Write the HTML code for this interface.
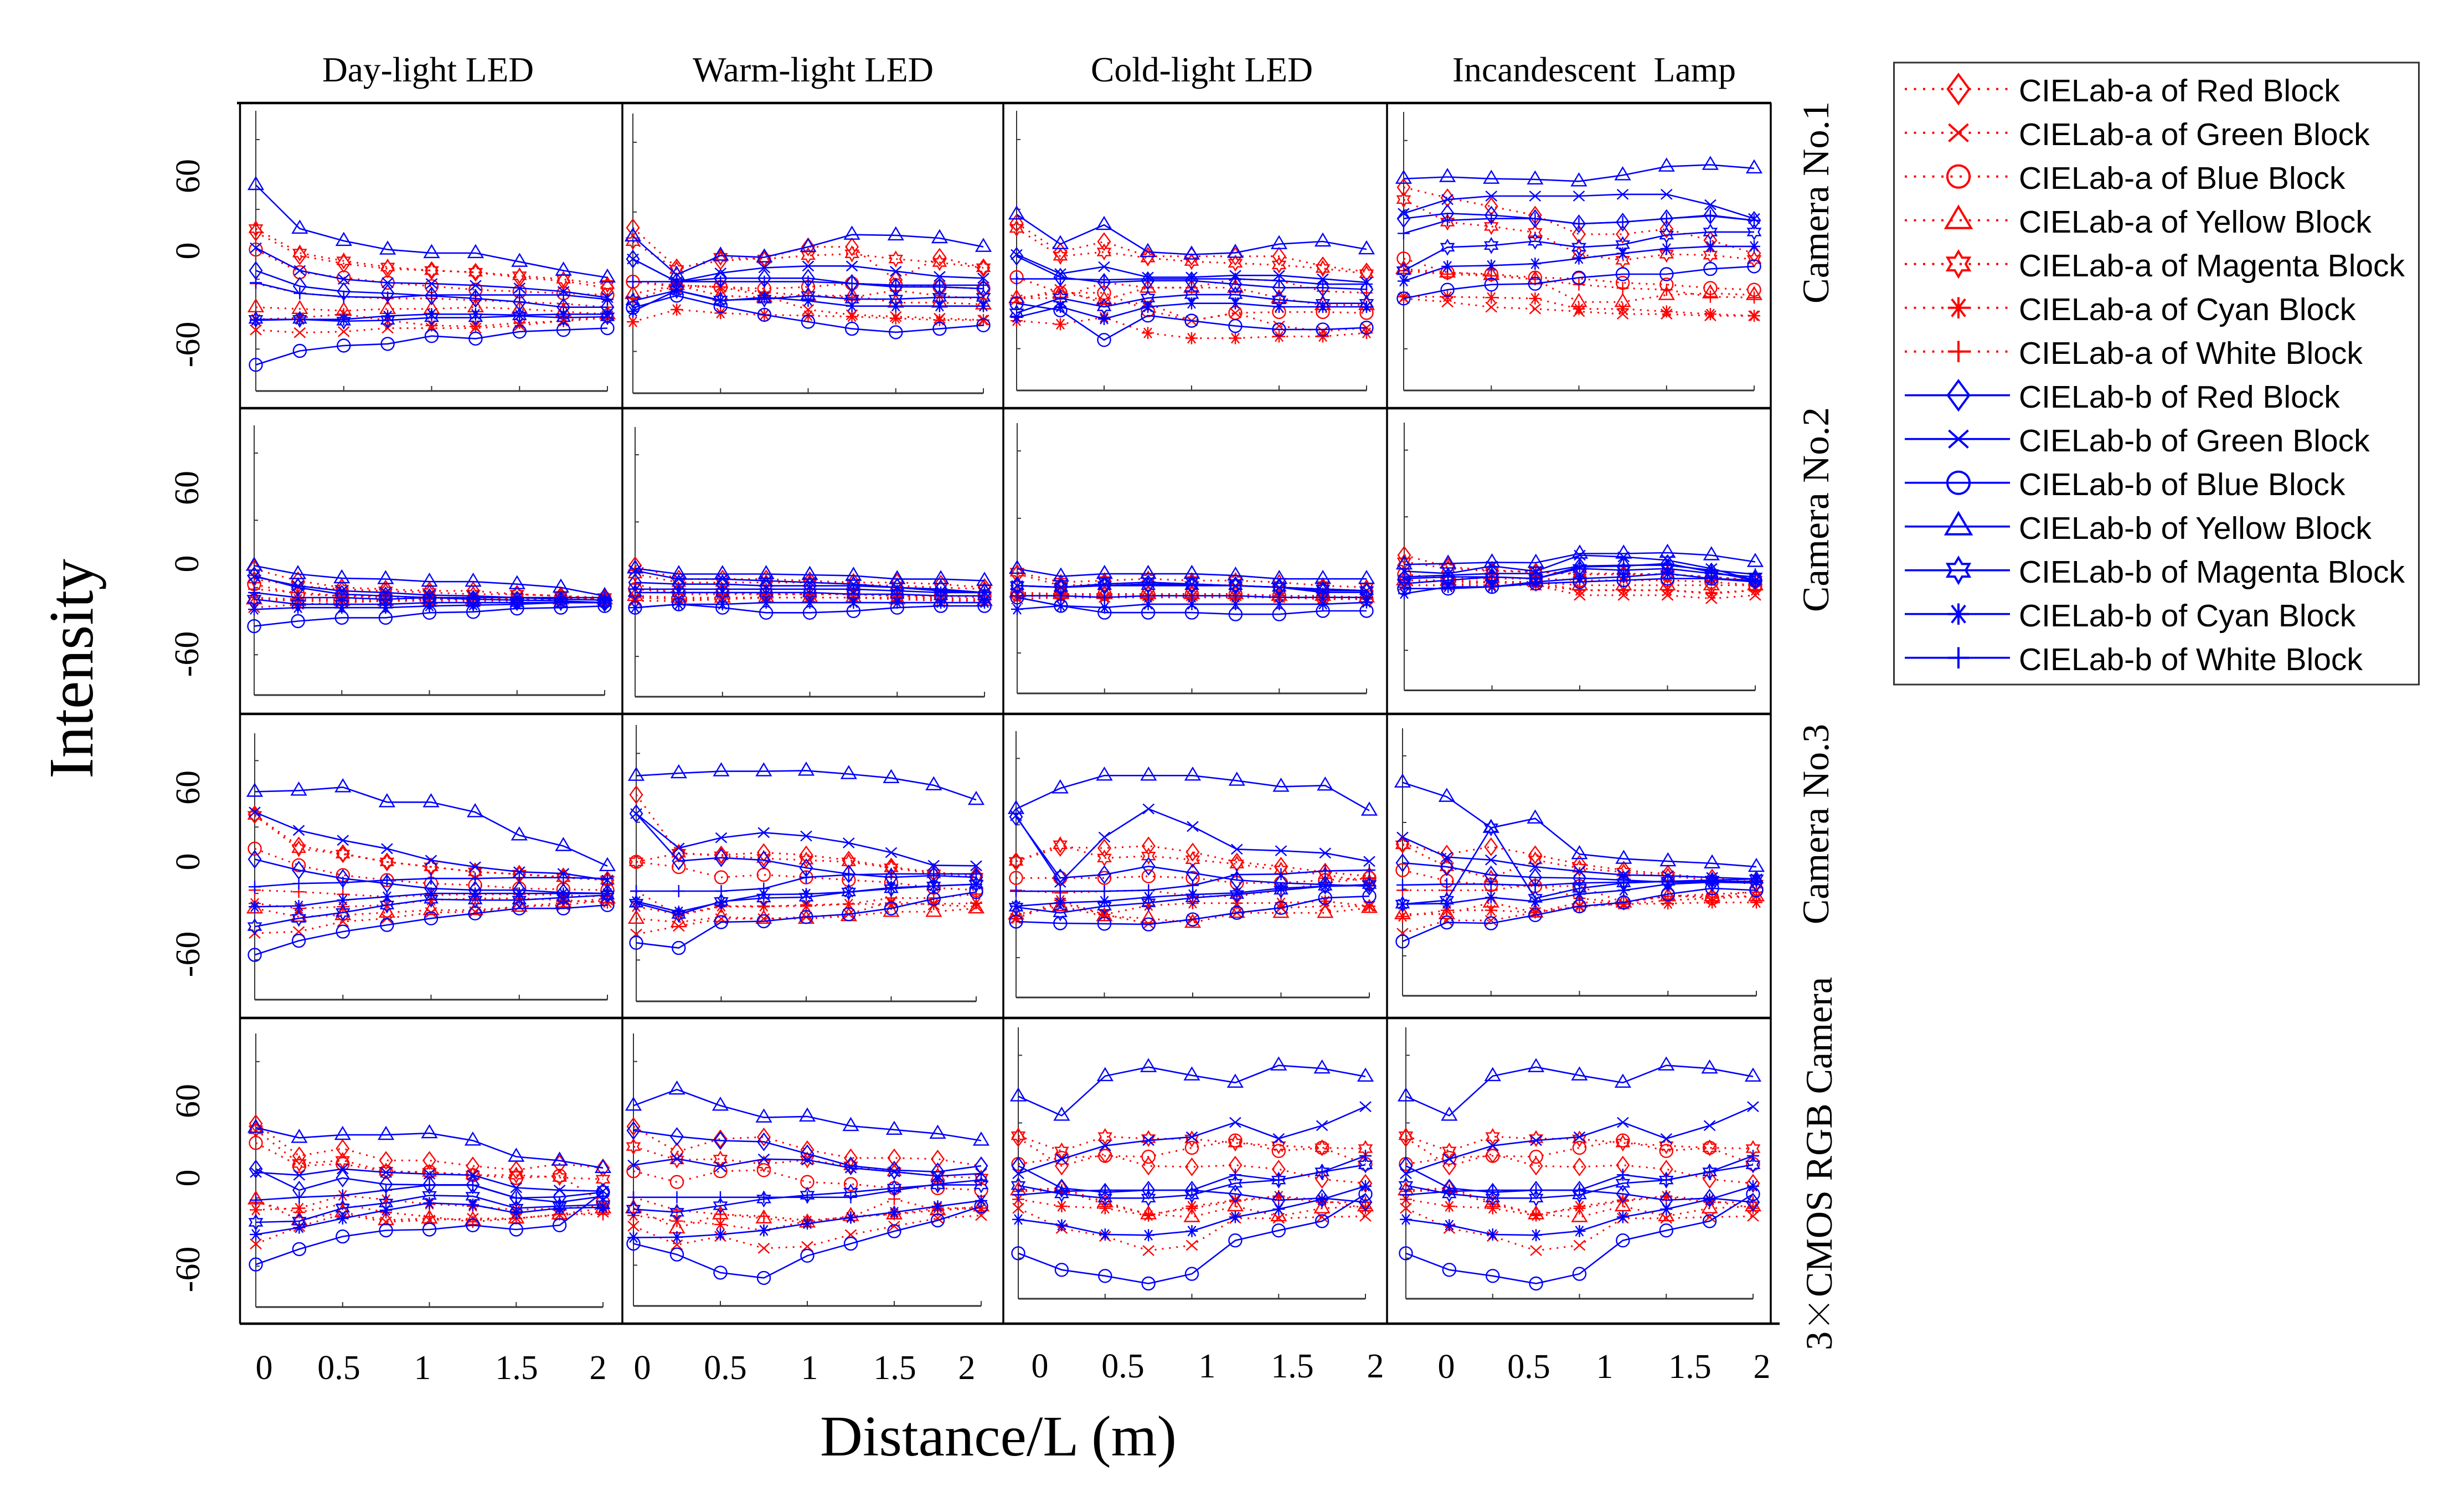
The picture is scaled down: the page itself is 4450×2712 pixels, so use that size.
<!DOCTYPE html>
<html lang="en">
<head>
<meta charset="utf-8">
<title>CIELab intensity versus distance</title>
<style>
html,body{margin:0;padding:0;background:#fff;width:4450px;height:2712px;overflow:hidden}
svg{display:block}
.serif{font-family:"Liberation Serif","Noto Serif CJK SC",serif;fill:#000}
.sans{font-family:"Liberation Sans",sans-serif;fill:#000}
.tick{font-size:62px}
.head{font-size:63px}
.row{font-size:68px}
.leg{font-size:57px}
</style>
</head>
<body>
<svg id="chart" xmlns="http://www.w3.org/2000/svg" width="4450" height="2712" viewBox="0 0 4450 2712">
  <rect x="0" y="0" width="4450" height="2712" fill="#fff"/>

  <g class="serif head">
    <text x="582" y="147" textLength="382" lengthAdjust="spacingAndGlyphs">Day-light LED</text>
    <text x="1251" y="147" textLength="435" lengthAdjust="spacingAndGlyphs">Warm-light LED</text>
    <text x="1970" y="147" textLength="401" lengthAdjust="spacingAndGlyphs">Cold-light LED</text>
    <text x="2623" y="147" textLength="512" lengthAdjust="spacingAndGlyphs" xml:space="preserve">Incandescent  Lamp</text>
  </g>

  <g id="panels"></g>

  <g stroke="#000" fill="none">
    <line x1="428" y1="186" x2="3199" y2="186" stroke-width="4.5"/>
    <line x1="433" y1="737" x2="3199" y2="737" stroke-width="4.5"/>
    <line x1="433" y1="1289" x2="3199" y2="1289" stroke-width="4.5"/>
    <line x1="433" y1="1838" x2="3199" y2="1838" stroke-width="4.5"/>
    <line x1="433" y1="2390" x2="3214" y2="2390" stroke-width="4.5"/>
    <line x1="433.5" y1="186" x2="433.5" y2="2390" stroke-width="3.5"/>
    <line x1="1124" y1="186" x2="1124" y2="2390" stroke-width="3.5"/>
    <line x1="1812" y1="186" x2="1812" y2="2390" stroke-width="3.5"/>
    <line x1="2505" y1="186" x2="2505" y2="2390" stroke-width="3.5"/>
    <line x1="3198" y1="186" x2="3198" y2="2390" stroke-width="3.5"/>
  </g>

  <g class="serif tick" text-anchor="middle">
    <text transform="translate(360 318) rotate(-90)">60</text>
    <text transform="translate(360 453) rotate(-90)">0</text>
    <text transform="translate(360 622) rotate(-90)">-60</text>
    <text transform="translate(358 881) rotate(-90)">60</text>
    <text transform="translate(358 1018) rotate(-90)">0</text>
    <text transform="translate(358 1181) rotate(-90)">-60</text>
    <text transform="translate(360 1422) rotate(-90)">60</text>
    <text transform="translate(360 1556) rotate(-90)">0</text>
    <text transform="translate(360 1723) rotate(-90)">-60</text>
    <text transform="translate(360 1988) rotate(-90)">60</text>
    <text transform="translate(360 2127) rotate(-90)">0</text>
    <text transform="translate(360 2292) rotate(-90)">-60</text>
  </g>

  <g class="serif tick" text-anchor="middle">
    <text x="477" y="2490">0</text>
    <text x="612" y="2490">0.5</text>
    <text x="763" y="2490">1</text>
    <text x="933" y="2490">1.5</text>
    <text x="1080" y="2490">2</text>
    <text x="1160" y="2490">0</text>
    <text x="1310" y="2490">0.5</text>
    <text x="1462" y="2490">1</text>
    <text x="1616" y="2490">1.5</text>
    <text x="1746" y="2490">2</text>
    <text x="1878" y="2487">0</text>
    <text x="2028" y="2487">0.5</text>
    <text x="2180" y="2487">1</text>
    <text x="2334" y="2487">1.5</text>
    <text x="2484" y="2487">2</text>
    <text x="2612" y="2488">0</text>
    <text x="2761" y="2488">0.5</text>
    <text x="2898" y="2488">1</text>
    <text x="3052" y="2488">1.5</text>
    <text x="3182" y="2488">2</text>
  </g>

  <text class="serif" font-size="104" x="1481" y="2628" textLength="644" lengthAdjust="spacingAndGlyphs">Distance/L (m)</text>
  <text class="serif" font-size="114" transform="translate(167 1406) rotate(-90)" textLength="397" lengthAdjust="spacingAndGlyphs">Intensity</text>

  <g class="serif row">
    <text transform="translate(3302 548) rotate(-90)" textLength="365" lengthAdjust="spacingAndGlyphs">Camera No.1</text>
    <text transform="translate(3302 1105) rotate(-90)" textLength="370" lengthAdjust="spacingAndGlyphs">Camera No.2</text>
    <text transform="translate(3302 1669) rotate(-90)" textLength="362" lengthAdjust="spacingAndGlyphs">Camera No.3</text>
    <text transform="translate(3308 2438) rotate(-90)">3<tspan font-family="'Noto Serif CJK SC',serif" font-size="62">×</tspan>CMOS RGB Camera</text>
  </g>

  <g>
    <rect x="3420.5" y="113" width="948" height="1123" fill="#fff" stroke="#333" stroke-width="3"/>
    <g id="legend-keys"></g>
    <g class="sans leg">
      <text x="3646" y="183">CIELab-a of Red Block</text>
      <text x="3646" y="262">CIELab-a of Green Block</text>
      <text x="3646" y="341">CIELab-a of Blue Block</text>
      <text x="3646" y="420">CIELab-a of Yellow Block</text>
      <text x="3646" y="499">CIELab-a of Magenta Block</text>
      <text x="3646" y="578">CIELab-a of Cyan Block</text>
      <text x="3646" y="657">CIELab-a of White Block</text>
      <text x="3646" y="736">CIELab-b of Red Block</text>
      <text x="3646" y="815">CIELab-b of Green Block</text>
      <text x="3646" y="894">CIELab-b of Blue Block</text>
      <text x="3646" y="973">CIELab-b of Yellow Block</text>
      <text x="3646" y="1052">CIELab-b of Magenta Block</text>
      <text x="3646" y="1131">CIELab-b of Cyan Block</text>
      <text x="3646" y="1210">CIELab-b of White Block</text>
    </g>
  </g>
</svg>

<script>
// Categories
const distances = [0, 0.25, 0.5, 0.75, 1, 1.25, 1.5, 1.75, 2];
const xTicks = [0, 0.5, 1, 1.5, 2];
const yTicks = [60, 20, -20, -60];
const seriesKeys = ['a-red','a-green','a-blue','a-yellow','a-magenta','a-cyan','a-white','b-red','b-green','b-blue','b-yellow','b-magenta','b-cyan','b-white'];

// Series values: each panel lists a-Red, a-Green, a-Blue, a-Yellow, a-Magenta, a-Cyan, a-White, then the same for b.
const cam1Day = [
[7,-6.5,-11,-14,-15,-16,-19,-21,-25],[-49,-50.6,-50,-48,-48,-48,-46.5,-43.6,-41],[-3,-16,-19,-22,-24,-26,-27,-28,-29],[-36,-37,-38,-37,-37,-36,-37,-38.5,-40],[9,-5,-9.5,-13,-15,-16,-18,-20,-23],[-43,-42,-40,-43.6,-46.5,-47,-45,-44,-42],[-22.5,-28,-30,-31,-31,-32,-33,-34,-36],
[-15,-24,-27,-28,-29.5,-31,-33,-36,-36],[-2,-15,-20,-22,-22.5,-23.5,-25,-27,-30.5],[-69,-61,-58,-57,-52.5,-54,-50,-49,-48],[34,9,2,-3,-5,-5,-10,-15,-19],[-43,-43,-44,-43.5,-42,-42,-41,-42,-41.5],[-43.5,-43,-43,-41,-40,-40,-40.5,-40,-40],[-22,-28,-30,-30.5,-29,-29,-29,-29,-31.5]];
const cam1Warm = [
[11,-12,-8,-6.5,0,0,-19,-6,-12],[-31,-22,-23,-28,-36,-39,-40,-41,-42],[-20,-23,-23,-24,-23,-21,-22,-23,-24],[-27,-22,-28,-29,-28,-28,-32,-32,-33],[3,-13,-6,-7,-5,-4,-7,-9,-12],[-43,-36,-38,-39,-39.5,-40,-41,-42,-42],[-20,-22,-23,-26,-28,-29,-25,-28,-30],
[-7,-20,-18,-18,-18,-21,-23,-23,-24],[-7,-20,-15,-12,-11,-11,-14,-17,-18],[-35,-28,-34,-39,-43,-47,-49,-47,-45],[6,-16,-5,-6,0,7,6.6,5,0],[-31,-25,-30.6,-30,-28,-30,-30,-29,-29],[-37,-25,-31,-29,-31,-34,-34,-34,-34],[-20,-20,-20,-20,-20,-21,-22,-22,-22]];
const cam1Cold = [
[12,-4.5,1.4,-7,-7,-7,-7,-12.5,-16],[-32,-26,-34,-34,-44,-39.5,-47,-50,-48],[-19,-28,-28,-38,-44,-39.5,-39,-39,-39.5],[-31,-28,-32,-25,-25,-25,-31,-35,-35],[9,-7,-4.5,-8,-10,-11,-12,-14,-17],[-44,-46,-42,-51,-54,-54,-53,-53,-51],[-31,-31,-22,-25,-25,-20,-21,-27,-28],
[-7,-19,-22,-21,-21,-23,-25,-25,-26],[-6,-17,-13,-19,-19,-18,-18,-20,-22],[-34,-38,-55,-41,-44,-47,-49,-49,-48],[17,0,11,-4.5,-6,-5,0,1.5,-3],[-39.5,-31,-36,-31,-29,-29,-32,-34,-34],[-42,-36,-43,-36,-34,-34,-36,-36,-36],[-20,-20,-20.5,-20,-20,-20,-21,-23,-23]];
const cam1Lamp = [
[33,27,22,17,6,6,9,2.5,-5],[-31,-33,-36,-37,-38.5,-40,-40,-41,-41],[-8,-16,-17,-19,-19.5,-22,-23,-25,-26],[-14,-16,-17.5,-20,-33,-33,-29,-28,-29],[26,13,10.5,7,-5.5,-9,-5.5,-6,-8.5],[-30,-30,-30.5,-31,-37,-37,-38.5,-40,-41],[-15,-17,-18,-20,-23,-25,-26,-30,-30.5],
[15,18,17,15,12,13,15,17,14],[18,26,28,28,28,29,29,23,15],[-31,-26,-23,-22.5,-19,-17,-17,-14,-12.5],[38,39,38,37.6,36.5,40,45,46,44],[-15,-1.5,-0.5,2,-1.5,0,5.5,7.3,7.3],[-21,-12.5,-12,-11,-8,-5,-2.3,-1,-1],[6.5,14,15,15,12,13,15,16.5,14]];
const cam2Day = [
[-9,-16,-20,-21,-22,-22,-24,-25,-27],[-32,-30,-29,-28,-28,-28,-28,-27,-27],[-18,-24,-25,-26,-27,-27,-27,-27,-27],[-27,-28,-28,-28,-27,-27,-27,-27,-27],[-15,-19,-21,-22,-23,-24,-24,-25,-26],[-26,-27,-27,-27,-27,-26,-26,-26,-26],[-21,-23,-25,-25,-26,-26,-26,-26,-26],
[-13,-20,-24,-25,-26,-27,-27.5,-28,-29],[-13.5,-19,-22,-23,-24.5,-25,-26,-27,-27.5],[-43,-40,-38,-38,-35,-34.5,-32.5,-32,-31],[-7,-12,-14.5,-15,-16.5,-16.5,-18,-20,-25],[-27,-30,-30,-30,-29,-29,-29,-29,-29],[-33,-32,-32,-32,-31,-30.5,-30,-29,-29],[-23,-26,-26,-27,-26,-26,-26,-26,-26]];
const cam2Warm = [
[-6,-14,-14,-14,-15,-16,-16,-17,-19],[-27,-27,-26,-25,-25,-25,-25,-25,-26],[-20,-22,-22,-23,-23,-23,-24,-24,-24],[-24,-25,-25,-25,-25,-25,-26,-27,-27],[-11,-16,-16,-16,-16,-17,-18,-19,-20],[-25,-26,-25,-25,-25,-25,-25,-26,-27],[-17,-23,-23,-23,-23,-23,-24,-24,-25],
[-16,-17,-17,-18,-18,-18,-19,-20,-22],[-9,-14,-14,-15,-16,-17,-19,-21,-22],[-31,-29,-31,-34,-34,-33,-31,-30,-30],[-7.6,-11,-11,-11,-11.5,-12,-14,-14,-15],[-22,-22,-22,-22,-22,-23,-23,-24,-24],[-31,-29,-29,-28,-28,-28,-28,-28,-28],[-20,-20,-20,-20,-20,-20,-21,-22,-22]];
const cam2Cold = [
[-13,-20,-19,-19,-19,-20,-21,-22,-23],[-28,-27,-27,-26,-26,-26,-27,-28,-28],[-25,-25,-25,-25,-25,-25,-26,-27,-28],[-24,-25,-25,-25,-25,-25,-26,-26,-27],[-12,-18,-17,-16,-17,-17,-18,-20,-21],[-26,-27,-27,-27,-27,-27,-27,-28,-28],[-26,-26,-26,-26,-26,-26,-26,-27,-28],
[-20,-21,-20,-19,-19.5,-20,-21,-24,-24],[-20,-21,-19,-18,-19,-20,-21,-23,-23],[-27,-32,-36,-36,-36,-37,-37,-35,-35],[-10,-14.5,-13,-13,-13,-14,-16,-16,-16],[-20,-21,-20,-20,-20,-20,-21,-22,-23],[-34,-32,-33,-31,-31,-31,-31,-31,-30],[-26,-26,-27,-26,-26,-26,-27,-27,-27]];
const cam2Lamp = [
[-3,-10,-12,-13,-14.5,-14.5,-14.5,-16,-18],[-21,-21,-19,-21,-27,-27,-27,-29,-27],[-14.5,-17,-17,-17,-18,-18,-18,-19,-21],[-18,-18,-19,-19,-21,-21,-21,-21,-21],[-7,-11,-12.5,-13,-14,-14,-14.5,-16,-18],[-21,-21,-21,-21,-24,-24,-24,-26,-24],[-18,-19,-19,-19,-24,-24,-24,-25.5,-24],
[-17,-16,-16,-17,-10,-9.5,-8,-13,-18],[-12.6,-14,-9.5,-12.6,-3,-4,-6,-11,-18],[-23,-23,-22,-20,-19,-18,-17,-17,-18],[-8.5,-8,-7.3,-7.5,-2,-2,-1.5,-3,-7],[-20,-18,-16,-17,-11,-12,-11,-14,-16],[-26,-22,-22,-19,-17,-16,-14,-17,-19],[-16,-15,-14,-14,-9.5,-9,-9,-12,-14.5]];
const cam3Day = [
[27.5,8.6,4,-1,-4,-7,-8.4,-10,-12],[-44,-43,-37,-35,-31.5,-31,-28,-27,-24],[7,-3,-9,-12,-14,-15,-17,-17.5,-18],[-29,-34,-33,-31.5,-30,-30,-28,-25.5,-23],[27,7,3.7,-1,-4,-7,-8.4,-10.5,-12],[-26,-29,-28,-27,-24,-23,-23,-24,-25.5],[-18,-19,-20.5,-22,-21,-20.5,-20.5,-21,-22],
[0.6,-6,-11,-14,-17,-18,-18,-19.5,-20],[29,18,12,7,0,-4,-7,-8,-12],[-57,-48.5,-43,-39,-35,-32,-29,-29,-27],[41.3,42,44,35,35,29,15,8.6,-3.5],[-40,-35,-31.5,-27,-23.5,-24,-24,-22.5,-21],[-28,-27.5,-24,-22,-20,-20,-20,-20,-20],[-16,-14,-13.5,-12,-11,-11,-10.5,-10.5,-11]];
const cam3Warm = [
[36,2,1,2.4,1,-2,-6,-9,-11],[-45,-40.4,-36,-36,-35,-33.4,-26,-28,-29],[-3,-6,-12,-10.5,-12,-13.5,-15,-18,-19.4],[-36,-38,-35,-36,-36,-34.5,-32,-32,-30],[-3,2,0.5,-1,-2,-3,-6.5,-10,-12],[-29,-33.5,-28.7,-28.7,-28.7,-27.5,-27.5,-27.5,-27],[-20,-34,-29,-29,-28,-27.5,-24,-24,-21.7],
[25,-2.5,-0.6,-2,-6.5,-10,-12,-11,-12],[25,5,11,14,12,8,2.4,-5,-5.3],[-50,-53,-38,-37.5,-35,-33.4,-30,-24.5,-20.5],[47,48.5,49.6,49.6,50,48,45.7,41.5,33],[-27,-33.5,-26,-24,-23.5,-20.5,-18.6,-17,-16],[-26,-32,-26.4,-22,-21.7,-20.5,-18,-17,-16],[-20,-20,-20,-18.5,-12,-10.5,-10,-10,-10]];
const cam3Cold = [
[-2,6.5,6,7.3,3.6,-2.4,-5,-8.5,-11],[-36.4,-27,-34,-39.6,-37,-33,-30,-29,-29],[-12,-12,-12,-11,-12,-15,-15,-13.3,-12],[-34,-29,-35,-36.4,-39,-33,-33,-33,-30],[-2,8,0,1.2,-1,-3.6,-7.3,-10,-14.6],[-36.4,-25.5,-34,-28.6,-27.2,-27.2,-27,-26,-29],[-19.4,-21,-20,-19.4,-23,-23,-19.4,-15,-12],
[24.8,-12,-10,-5,-9,-13.3,-15,-16,-17],[25.5,-14.6,12.6,29.6,19,5.3,4.4,3,-2],[-38.3,-39.3,-39.6,-40,-37,-33,-30,-24,-23],[29.6,42,49.7,49.7,49.7,46.6,43,43.7,28.6],[-29.6,-33,-29,-27,-24,-22,-19.4,-17,-16],[-29,-27,-26,-23.6,-22,-21,-18.2,-17,-16.5],[-20,-20,-20,-19.4,-16.5,-10,-9.7,-7.8,-7.3]];
const cam3Lamp = [
[7,1,5.4,0.6,-5,-8.6,-11,-13.4,-15.8],[-46.5,-38.8,-38.8,-34,-30.3,-29,-26.7,-25.5,-24.3],[-8.6,-15,-17.5,-18.2,-18.2,-28,-23.5,-25.5,-20.7],[-35,-35,-28,-34,-28,-28,-24.3,-24.3,-24.3],[6.6,-6.6,-13.4,-2.5,-7.4,-9.8,-12.2,-14.6,-17],[-36.4,-32.7,-32.7,-34,-30.3,-29,-28.6,-28,-28],[-20.7,-20.7,-20.7,-17,-25.5,-28,-24.3,-23,-21.9],
[-4.2,-6.6,-11.5,-13,-13.4,-14.6,-15.8,-15.8,-16.3],[11.2,-0.8,-2.5,-6.6,-9.3,-11.5,-12,-13,-13.9],[-51.4,-40,-40.5,-35.6,-30.3,-28,-23,-19.5,-20.7],[44,35.4,16.8,22.4,1,-1.8,-3.3,-4.5,-6.6],[-29,-26.7,16.8,-25.5,-19.5,-16.3,-15.3,-14.6,-13.9],[-29,-28.6,-25,-27.4,-23,-20.7,-17,-15.8,-15.3],[-17.5,-17,-17,-17.8,-16.3,-15.8,-15.3,-15.3,-15.3]];
const cmosDay = [
[23.6,4.7,9,2,2,-1.2,-3.6,0,-2.4],[-47,-36.7,-29.6,-34,-33,-32,-32,-30,-28.4],[12.3,-1.2,0,-4.7,-4.7,-6.6,-8.3,-7,-22.5],[-20.8,-33,-28.4,-33,-32,-33,-32,-29.6,-26],[20,0.2,2,-4.3,-5,-6.6,-6.6,-8,-9],[-27,-26,-18.5,-21,-23.6,-24.8,-27,-26,-24.8],[-22.5,-28.4,-23.6,-28.4,-31,-34,-32,-29.6,-29.6],
[-3,-15.4,-8.3,-12,-12.3,-12.3,-20,-19.4,-16.6],[-5,-6.6,-3,-5,-6,-6.6,-14,-15.4,-16],[-59,-50,-42.6,-39,-38.5,-36,-38.5,-36,-16.6],[21.2,15.3,17,17,18,13.7,4.2,1.9,-2.4],[-34.3,-33.6,-26,-23,-18.5,-19,-26,-24.8,-24],[-41.4,-37.4,-32,-27.2,-23,-24,-28.8,-26,-25.5],[-21.3,-19.6,-18.5,-15.4,-12.5,-12.5,-20,-22.5,-19]];
const cmosWarm = [
[21.7,6.8,14.4,15.5,8,3.2,3.2,2.5,-1.5],[-37,-48,-43,-50,-49,-42,-37,-32.4,-30.7],[-4.6,-11,-4.6,-4,-11,-12.2,-14.6,-14.6,-15.8],[-26.4,-38.3,-30,-32.4,-34.8,-31,-30,-27.6,-25.3],[9.9,2,2.5,-0.4,2,-1.5,-5,-7.5,-8.7],[-30.7,-34,-36,-39.5,-34,-31.7,-30,-26.4,-26.4],[-20,-27.6,-30,-31.2,-33.6,-31.7,-21,-27.6,-26.4],
[19.3,15.8,13.4,12.7,5.6,-1.5,-4,-5,-1.5],[-1,2.7,-2,2.5,2,-2.7,-5,-7.5,-6],[-47.3,-53.7,-64.4,-67.5,-54.4,-47.3,-40,-33.6,-25.3],[34,43.5,34,27,27.6,22,19.8,17.5,13.4],[-27,-28.8,-25,-21,-18.8,-17,-14.6,-12.7,-12.7],[-43.7,-43.5,-41.9,-39.5,-35.5,-32,-28.8,-25.3,-22],[-20,-20,-20,-20,-20,-20,-16,-12.2,-9.8]];
const cmosCold = [
[11.2,-5.5,1.7,-5.5,-6,-5,-7.4,-13.3,-15.7],[-30.5,-42.4,-47.1,-55.5,-52.4,-36.4,-36.4,-35.7,-35.2],[-4.3,-0.7,0.5,0,5.3,9.6,3.4,5.3,-4.3],[-19.8,-18.6,-26.9,-34,-35.7,-29.3,-35.2,-30.5,-29.3],[12.4,3.4,11.9,10.7,10.5,8.1,6.5,5.3,4.8],[-25.2,-29.3,-30.5,-34.8,-29.3,-25.7,-23.3,-25.7,-30.5],[-20.5,-19.8,-28.1,-34,-30.5,-26.2,-23.8,-26.9,-26.9],
[-5.4,-18.6,-21,-19.8,-19.8,-22,-25.7,-24.5,-26.9],[-10,-1.4,6.5,9.6,11.7,20.3,10.7,18.4,29.6],[-57.1,-66.9,-70.5,-75,-69.3,-49.5,-43.6,-38.1,-22.1],[35.7,24.3,47.7,53,48.1,43.8,54,52.2,47.4],[-17,-22,-24.5,-24.5,-22.6,-15.7,-13.8,-9,-4.8],[-37.1,-40.5,-46,-46.4,-44,-35.7,-31,-25.2,-17.4],[-22.6,-20.5,-19.8,-19.8,-19.8,-10.7,-13.8,-9,0.5]];
// The reference shows the same curves in the cold-light and incandescent panels of this row.
const cmosLamp = cmosCold;

const panelData = [cam1Day,cam1Warm,cam1Cold,cam1Lamp,cam2Day,cam2Warm,cam2Cold,cam2Lamp,cam3Day,cam3Warm,cam3Cold,cam3Lamp,cmosDay,cmosWarm,cmosCold,cmosLamp];
const panelNames = ['camera1-day','camera1-warm','camera1-cold','camera1-lamp','camera2-day','camera2-warm','camera2-cold','camera2-lamp','camera3-day','camera3-warm','camera3-cold','camera3-lamp','cmos-day','cmos-warm','cmos-cold','cmos-lamp'];

// Layout of each small axes box (not data): left, right, top, bottom
const axesBoxes = [
[462,1097,200,706],[1143,1776,205,710],[1836,2468,200,705],[2535,3168,202,705],
[459,1092,768,1255],[1147,1778,771,1258],[1837,2468,764,1252],[2536,3170,763,1246.5],
[460,1097,1324,1805],[1149,1763,1309,1808],[1835,2473,1320,1801],[2533,3172,1315,1798],
[462,1089,1866,2360],[1144,1772,1866,2358],[1839,2466,1855,2345],[2539,3166,1855,2345]];

const NS = 'http://www.w3.org/2000/svg';
const DOMAIN_TOP = 76.5, DOMAIN_BOTTOM = -84, X_MAX = 2;
const RED = '#ff0000', BLUE = '#0000ff';

function xScale(box, d) { return box[0] + (d / X_MAX) * (box[1] - box[0]); }
function yScale(box, v) { return box[2] + (DOMAIN_TOP - v) / (DOMAIN_TOP - DOMAIN_BOTTOM) * (box[3] - box[2]); }
function f(n) { return Math.round(n * 10) / 10; }

function markerPath(kind, cx, cy, s) {
  const p = (dx, dy) => f(cx + dx * s) + ' ' + f(cy + dy * s);
  switch (kind) {
    case 0: return 'M' + p(0,-15) + 'L' + p(11,0) + 'L' + p(0,15) + 'L' + p(-11,0) + 'Z';
    case 1: return 'M' + p(-10,-9) + 'L' + p(10,9) + 'M' + p(10,-9) + 'L' + p(-10,9);
    case 2: return 'M' + p(-11.5,0) + 'A' + f(11.5*s) + ' ' + f(11.5*s) + ' 0 1 0 ' + p(11.5,0) + 'A' + f(11.5*s) + ' ' + f(11.5*s) + ' 0 1 0 ' + p(-11.5,0) + 'Z';
    case 3: return 'M' + p(0,-14) + 'L' + p(13,8) + 'L' + p(-13,8) + 'Z';
    case 4: {
      let d = '';
      for (let k = 0; k < 12; k++) {
        const r = k % 2 ? 7.5 : 13;
        const a = (-90 + 30 * k) * Math.PI / 180;
        d += (k ? 'L' : 'M') + p(r * Math.cos(a), r * Math.sin(a));
      }
      return d + 'Z';
    }
    case 5: return 'M' + p(-11,0) + 'L' + p(11,0) + 'M' + p(0,-11) + 'L' + p(0,11) + 'M' + p(-7,-9) + 'L' + p(7,9) + 'M' + p(7,-9) + 'L' + p(-7,9);
    default: return 'M' + p(-11,0) + 'L' + p(11,0) + 'M' + p(0,-11) + 'L' + p(0,11);
  }
}

function make(tag, parent) {
  const el = document.createElementNS(NS, tag);
  parent.appendChild(el);
  return el;
}

const panelsRoot = document.getElementById('panels');
panelData.forEach((series, pi) => {
  const box = axesBoxes[pi];
  const panel = make('g', panelsRoot);
  
  

  const yAxis = make('line', panel);
  
  
  yAxis.setAttribute('x1', box[0]); yAxis.setAttribute('x2', box[0]);
  yAxis.setAttribute('y1', box[2]); yAxis.setAttribute('y2', box[3]);
  yAxis.setAttribute('stroke', '#333'); yAxis.setAttribute('stroke-width', '2');

  const xAxis = make('line', panel);
  
  
  xAxis.setAttribute('x1', box[0]); xAxis.setAttribute('x2', box[1]);
  xAxis.setAttribute('y1', box[3]); xAxis.setAttribute('y2', box[3]);
  xAxis.setAttribute('stroke', '#333'); xAxis.setAttribute('stroke-width', '3');

  yTicks.forEach(t => {
    const tick = make('line', panel);
    
    
    tick.setAttribute('x1', box[0]); tick.setAttribute('x2', box[0] + 7);
    tick.setAttribute('y1', f(yScale(box, t))); tick.setAttribute('y2', f(yScale(box, t)));
    tick.setAttribute('stroke', '#333'); tick.setAttribute('stroke-width', '2');
  });
  xTicks.forEach(t => {
    const tick = make('line', panel);
    
    
    tick.setAttribute('x1', f(xScale(box, t))); tick.setAttribute('x2', f(xScale(box, t)));
    tick.setAttribute('y1', box[3]); tick.setAttribute('y2', box[3] - 9);
    tick.setAttribute('stroke', '#333'); tick.setAttribute('stroke-width', '2');
  });

  series.forEach((values, si) => {
    const isA = si < 7;
    const color = isA ? RED : BLUE;
    const g = make('g', panel);
    
    
    g.setAttribute('fill', 'none');
    g.setAttribute('stroke', color);

    const line = make('polyline', g);
    
    
    line.setAttribute('points', values.map((v, i) => f(xScale(box, distances[i])) + ',' + f(yScale(box, v))).join(' '));
    line.setAttribute('stroke-width', isA ? '3' : '2.6');
    if (isA) line.setAttribute('stroke-dasharray', '3 10');

    values.forEach((v, i) => {
      const mark = make('path', g);
      
      
      mark.setAttribute('d', markerPath(si % 7, xScale(box, distances[i]), yScale(box, v), 1));
      mark.setAttribute('stroke-width', '2.4');
    });
  });
});

const legendKeys = document.getElementById('legend-keys');
seriesKeys.forEach((key, si) => {
  const isA = si < 7;
  const cy = 160.7 + 79 * si;
  const g = make('g', legendKeys);
  
  
  g.setAttribute('fill', 'none');
  g.setAttribute('stroke', isA ? RED : BLUE);

  const swatch = make('line', g);
  
  
  swatch.setAttribute('x1', 3440); swatch.setAttribute('x2', 3630);
  swatch.setAttribute('y1', cy); swatch.setAttribute('y2', cy);
  swatch.setAttribute('stroke-width', isA ? '4' : '3.6');
  if (isA) swatch.setAttribute('stroke-dasharray', '4 12.5');

  const mark = make('path', g);
  
  
  mark.setAttribute('d', markerPath(si % 7, 3537, cy, 1.75));
  mark.setAttribute('stroke-width', '4');
});
</script>
</body>
</html>
